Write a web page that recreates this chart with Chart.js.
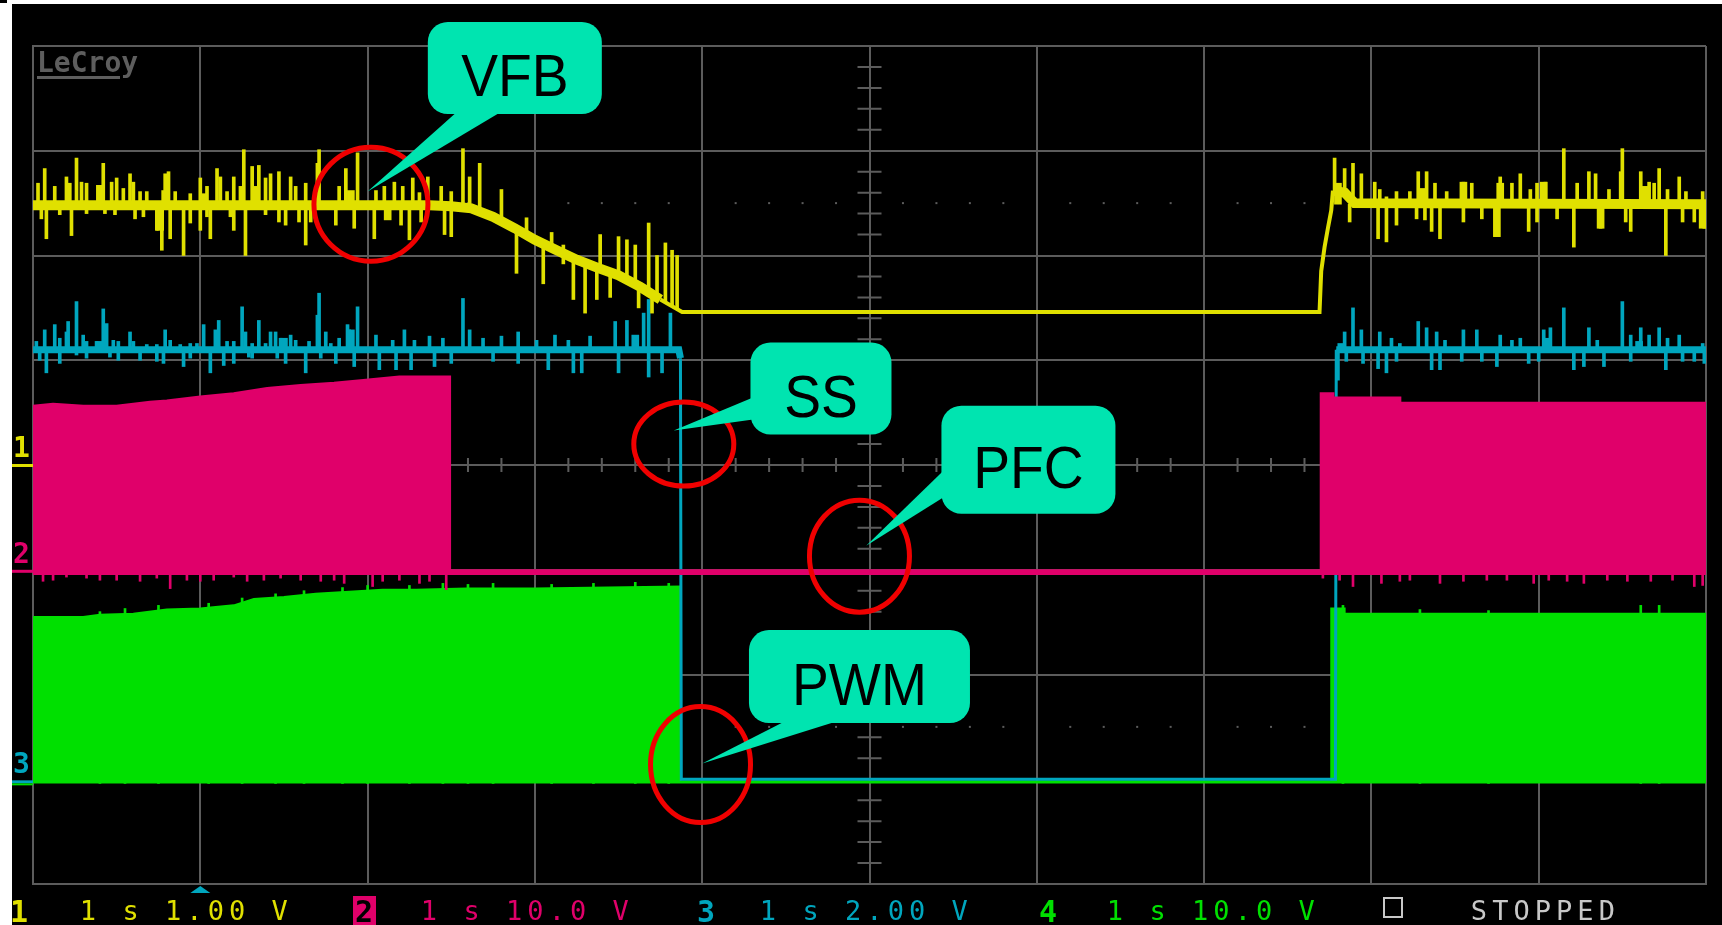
<!DOCTYPE html>
<html>
<head>
<meta charset="utf-8">
<title>LeCroy - VFB / SS / PFC / PWM</title>
<script src="https://cdn.jsdelivr.net/npm/chart.js@4.4.1/dist/chart.umd.min.js"></script>
<style>
  html, body { margin: 0; padding: 0; background: #fff; }
  #scope { display: block; }
</style>
</head>
<body>
<canvas id="scope" width="1722" height="925"></canvas>
<script>
// time axis: 1 s/div, 10 div. vertical values are screen divisions (0 = centre line)

// CH1 yellow - VFB
const vfbTime  = [0, 2.37, 2.50, 2.62, 2.75, 2.88, 3.00, 3.13, 3.25, 3.38, 3.50, 3.63, 3.75, 3.88, 7.69, 7.70, 7.72, 7.74, 7.76, 7.77, 7.84, 7.90, 10];
const vfbLevel = [2.48, 2.48, 2.47, 2.45, 2.37, 2.26, 2.15, 2.05, 1.96, 1.88, 1.81, 1.70, 1.58, 1.46, 1.46, 1.85, 2.08, 2.26, 2.43, 2.62, 2.60, 2.50, 2.49];
// noise spikes [time, low, high]
const vfbSpikes = [
  [0.03,2.48,2.69],[0.07,2.48,2.83],[0.13,2.48,2.66],[0.20,2.48,2.75],[0.22,2.48,2.69],[0.26,2.48,2.93],[0.29,2.48,2.70],
  [0.32,2.48,2.69],[0.39,2.48,2.67],[0.42,2.48,2.88],[0.47,2.48,2.70],[0.50,2.48,2.74],[0.54,2.48,2.64],[0.58,2.48,2.78],
  [0.60,2.48,2.70],[0.64,2.48,2.61],[0.68,2.48,2.61],[0.79,2.48,2.78],[0.81,2.48,2.80],[0.85,2.48,2.61],[0.94,2.48,2.59],
  [1.00,2.48,2.74],[1.04,2.48,2.66],[1.10,2.48,2.83],[1.12,2.48,2.75],[1.16,2.48,2.61],[1.20,2.48,2.75],[1.24,2.48,2.66],
  [1.26,2.48,3.01],[1.31,2.48,2.85],[1.35,2.48,2.86],[1.39,2.48,2.74],[1.42,2.48,2.78],[1.47,2.48,2.80],[1.54,2.48,2.75],
  [1.57,2.48,2.66],[1.63,2.48,2.69],[1.70,2.48,2.88],[1.71,2.48,3.01],[1.83,2.48,2.66],[1.87,2.48,2.83],[1.94,2.48,2.98],
  [2.16,2.48,2.70],[2.21,2.48,2.66],[2.27,2.48,2.74],[2.36,2.48,2.75],[2.50,2.47,2.61],[2.57,2.47,3.02],[2.61,2.45,2.75],
  [2.67,2.42,2.88],[2.80,2.33,2.63],[2.05,2.48,2.62],[2.10,2.48,2.66],[2.31,2.48,2.60],[2.44,2.48,2.66],
  [0.05,2.35,2.48],[0.08,2.16,2.48],[0.16,2.39,2.48],[0.23,2.19,2.48],[0.32,2.40,2.48],[0.43,2.40,2.48],[0.49,2.39,2.48],
  [0.61,2.35,2.48],[0.66,2.37,2.48],[0.74,2.24,2.48],[0.77,2.05,2.48],[0.82,2.16,2.48],[0.90,2.00,2.48],[0.94,2.31,2.48],
  [1.00,2.24,2.48],[1.04,2.37,2.48],[1.06,2.16,2.48],[1.18,2.37,2.48],[1.20,2.24,2.48],[1.27,2.00,2.48],[1.39,2.39,2.48],
  [1.47,2.32,2.48],[1.51,2.29,2.48],[1.59,2.32,2.48],[1.63,2.10,2.48],[1.66,2.32,2.48],[1.81,2.29,2.48],[1.92,2.26,2.48],
  [2.04,2.16,2.48],[2.20,2.29,2.48],[2.25,2.15,2.48],[2.32,2.32,2.48],[2.46,2.20,2.48],[2.50,2.18,2.47],
  [2.89,1.83,2.25],[3.05,1.73,2.11],[3.23,1.58,1.97],[3.30,1.45,1.92],[3.37,1.58,1.88],[3.39,1.87,2.20],[3.45,1.60,1.84],
  [3.50,1.81,2.18],[3.55,1.77,2.15],[3.60,1.73,2.10],[3.62,1.50,1.71],[3.68,1.65,2.31],[3.70,1.45,1.63],[3.73,1.60,2.00],
  [3.78,1.55,2.12],[3.82,1.52,2.05],[3.85,1.49,2.00],[2.95,2.20,2.36],[3.10,2.06,2.22],[3.17,1.92,2.10],
  [7.78,2.6,2.93],[7.84,2.6,2.83],[7.89,2.49,2.88],[7.94,2.49,2.78],[8.02,2.49,2.70],[8.05,2.49,2.63],[8.09,2.49,2.56],
  [8.15,2.49,2.61],[8.23,2.49,2.61],[8.28,2.49,2.80],[8.33,2.49,2.80],[8.38,2.49,2.69],[8.45,2.49,2.61],[8.55,2.49,2.70],
  [8.60,2.49,2.69],[8.77,2.49,2.75],[8.84,2.49,2.69],[8.89,2.49,2.78],[8.95,2.49,2.63],[8.99,2.49,2.69],[9.04,2.49,2.70],
  [9.15,2.49,3.02],[9.23,2.49,2.69],[9.30,2.49,2.80],[9.34,2.49,2.78],[9.42,2.49,2.63],[9.49,2.49,2.80],[9.50,2.49,3.02],
  [9.61,2.49,2.80],[9.66,2.49,2.70],[9.69,2.49,2.69],[9.72,2.49,2.83],[9.77,2.49,2.63],[9.84,2.49,2.75],[9.88,2.49,2.61],
  [9.98,2.49,2.61],
  [7.87,2.32,2.49],[8.04,2.16,2.49],[8.09,2.13,2.49],[8.15,2.29,2.49],[8.27,2.35,2.49],[8.32,2.34,2.49],[8.36,2.23,2.49],
  [8.41,2.16,2.49],[8.55,2.32,2.49],[8.66,2.35,2.49],[8.75,2.18,2.49],[8.94,2.23,2.49],[8.99,2.32,2.49],[9.11,2.35,2.49],
  [9.21,2.08,2.49],[9.37,2.26,2.49],[9.52,2.32,2.49],[9.55,2.23,2.49],[9.76,2.00,2.49],[9.86,2.32,2.49],[9.93,2.32,2.49],
  [9.99,2.26,2.49]
];
// wider noise blocks [time, low, high]
const vfbBlocks = [
  [0.40,2.48,2.67],[0.79,2.48,2.62],[0.76,2.24,2.48],[1.02,2.48,2.59],[1.33,2.48,2.66],[1.90,2.48,2.62],[2.12,2.34,2.48],
  [7.80,2.49,2.69],[8.30,2.49,2.64],[8.55,2.49,2.70],[8.77,2.49,2.69],[8.75,2.18,2.49],[9.03,2.49,2.70],[9.37,2.26,2.49],
  [9.64,2.49,2.66],[9.98,2.26,2.49]
];

// CH3 cyan - SS
const ssTime  = [0, 3.86, 3.87, 3.875, 7.785, 7.79, 10];
const ssLevel = [1.10, 1.10, 1.02, -3.00, -3.00, 1.10, 1.10];
const ssHigh = 1.10;
// spike tips [time, tip]
const ssSpikes = [
  [0.02,1.18],[0.07,1.29],[0.13,1.34],[0.16,1.21],[0.20,1.27],[0.21,1.37],[0.26,1.56],[0.30,1.24],[0.32,1.18],[0.38,1.18],
  [0.42,1.49],[0.44,1.35],[0.48,1.19],[0.51,1.18],[0.58,1.27],[0.60,1.18],[0.68,1.15],[0.74,1.15],[0.79,1.29],[0.82,1.19],
  [0.88,1.15],[0.94,1.16],[0.98,1.16],[1.02,1.34],[1.09,1.29],[1.11,1.38],[1.16,1.18],[1.20,1.18],[1.25,1.51],[1.27,1.27],
  [1.31,1.16],[1.35,1.38],[1.39,1.16],[1.42,1.27],[1.45,1.27],[1.48,1.21],[1.54,1.24],[1.57,1.19],[1.65,1.18],[1.70,1.43],
  [1.71,1.64],[1.75,1.27],[1.78,1.16],[1.83,1.21],[1.88,1.34],[1.89,1.29],[1.94,1.51],
  [2.15,1.19],[2.28,1.19],[2.37,1.23],[2.57,1.59],[2.61,1.29],[2.69,1.21],[2.80,1.23],[3.01,1.19],[3.20,1.19],[3.33,1.23],
  [3.48,1.37],[3.55,1.38],[3.65,1.45],[3.68,1.58],[3.81,1.45],[2.05,1.24],[2.22,1.29],[2.45,1.21],[2.90,1.27],[3.12,1.24],
  [0.04,1.00],[0.08,0.88],[0.16,0.97],[0.26,1.05],[0.32,1.02],[0.46,1.03],[0.51,1.00],[0.64,1.00],[0.74,0.99],[0.78,0.97],
  [0.90,0.94],[0.94,1.02],[1.06,0.88],[1.14,0.95],[1.20,0.97],[1.29,1.03],[1.31,1.02],[1.46,1.02],[1.51,0.97],[1.63,0.88],
  [1.72,1.02],[1.81,0.97],[1.92,0.94],
  [2.07,0.91],[2.17,0.91],[2.26,0.91],[2.40,0.94],[2.50,0.97],[2.75,0.99],[2.90,0.97],[3.08,0.91],[3.23,0.88],[3.28,0.88],
  [3.50,0.88],[3.68,0.84],[3.76,0.88],
  [7.84,1.27],[7.89,1.50],[7.94,1.29],[8.05,1.27],[8.12,1.21],[8.17,1.16],[8.28,1.37],[8.33,1.31],[8.39,1.27],
  [8.44,1.19],[8.55,1.29],[8.63,1.29],[8.77,1.24],[8.84,1.19],[8.89,1.21],[9.03,1.29],[9.07,1.31],[9.15,1.50],
  [9.30,1.31],[9.35,1.19],[9.50,1.56],[9.55,1.24],[9.61,1.31],[9.66,1.24],[9.72,1.31],[9.77,1.21],[9.84,1.24],
  [9.98,1.16],
  [7.80,0.81],[7.85,0.99],[7.95,0.97],[8.04,0.92],[8.09,0.88],[8.15,0.99],[8.36,0.91],[8.41,0.91],[8.54,0.99],
  [8.66,0.99],[8.75,0.94],[8.94,0.97],[9.00,0.99],[9.21,0.91],[9.27,0.94],[9.39,0.94],[9.55,0.99],[9.76,0.91],
  [9.86,0.99],[9.93,0.99],[9.99,0.97]
];
const ssBlocks = [[0.40,1.18],[1.50,1.21],[1.90,1.29],[3.60,1.24],[7.82,1.16],[9.05,1.21],[9.60,1.18]];

// CH2 pink - PFC (switching envelope, filled down to its floor)
const pfcTime  = [0, 0.12, 0.30, 0.50, 0.70, 0.80, 1.00, 1.20, 1.40, 1.60, 1.80, 1.99, 2.19, 2.49, 2.49, 7.70, 7.70, 7.77, 7.77, 8.17, 8.17, 10];
const pfcLevel = [0.56, 0.58, 0.56, 0.56, 0.60, 0.61, 0.65, 0.68, 0.73, 0.76, 0.78, 0.81, 0.84, 0.84, -1.01, -1.01, 0.68, 0.68, 0.64, 0.64, 0.59, 0.59];
const pfcFloor = -1.05;
const pfcDrops = [
  [0.06,-1.11],[0.12,-1.10],[0.20,-1.07],[0.32,-1.08],[0.40,-1.10],[0.50,-1.10],[0.64,-1.11],[0.74,-1.08],[0.82,-1.18],
  [0.92,-1.10],[1.00,-1.11],[1.08,-1.10],[1.20,-1.07],[1.28,-1.11],[1.38,-1.10],[1.48,-1.08],[1.60,-1.10],[1.72,-1.11],
  [1.80,-1.10],[1.86,-1.13],[2.03,-1.16],[2.09,-1.11],[2.19,-1.10],[2.31,-1.13],[2.37,-1.11],[2.47,-1.19],
  [7.71,-1.08],[7.81,-1.10],[7.89,-1.16],[8.06,-1.13],[8.17,-1.11],[8.23,-1.10],[8.41,-1.13],[8.55,-1.11],[8.69,-1.10],
  [8.81,-1.10],[8.97,-1.13],[9.06,-1.10],[9.17,-1.11],[9.27,-1.13],[9.41,-1.10],[9.53,-1.11],[9.67,-1.11],[9.80,-1.10],
  [9.93,-1.16],[9.98,-1.15]
];

// CH4 green - PWM
const pwmTime  = [0, 0.30, 0.40, 0.60, 0.80, 1.00, 1.20, 1.32, 1.50, 1.69, 1.89, 2.09, 2.29, 2.59, 2.79, 3.00, 3.87, 3.87, 7.76, 7.76, 7.84, 7.84, 10];
const pwmLevel = [-1.45, -1.45, -1.43, -1.42, -1.38, -1.37, -1.34, -1.28, -1.26, -1.23, -1.21, -1.19, -1.19, -1.18, -1.18, -1.18, -1.16, -3.02, -3.02, -1.37, -1.37, -1.42, -1.42];
const pwmFloor = -3.04;
const pwmTicks = [
  [0.40,-1.40],[0.55,-1.37],[0.75,-1.34],[1.05,-1.32],[1.25,-1.27],[1.45,-1.23],[1.62,-1.20],[1.85,-1.17],[2.00,-1.15],
  [2.25,-1.15],[2.45,-1.13],[2.60,-1.14],[2.75,-1.13],[3.10,-1.14],[3.35,-1.13],[3.60,-1.12],[3.80,-1.13],
  [7.83,-1.34],[8.29,-1.38],[8.70,-1.39],[9.61,-1.34],[9.72,-1.34]
];

// readout line under the graticule
const chanIds    = ['1', '2', '3', '4'];
const chanScales = ['1 s 1.00 V', '1 s 10.0 V', '1 s 2.00 V', '1 s 10.0 V'];
const chanOffset = [0, -1.01, -3.02];
const trigTime = 1.0;

// callouts: label, box centre (t, div), tip (t, div)
const calloutText = ['VFB', 'SS', 'PFC', 'PWM'];
const calloutAt   = [[2.88, 3.79], [4.71, 0.73], [5.95, 0.05], [4.94, -2.02]];
const calloutTip  = [[2.00, 2.61], [3.83, 0.33], [4.98, -0.77], [4.00, -2.85]];
const ringAt      = [[2.02, 2.49], [3.89, 0.20], [4.94, -0.87], [3.99, -2.86]];

const YELLOW = '#e0e000', CYAN = '#00a6be', PINK = '#e0006a', GREEN = '#00e000';
const GRID = '#5c5c5c', TEAL = '#00e4b0';

const pts = (ts, vs) => ts.map((t, i) => ({ x: t, y: vs[i] }));
const bars = list => list.map(s => ({ x: s[0], y: [s[1], s[2]] }));

// box size / pointer root per callout (px)
const calloutBox  = [[174, 92], [141, 92], [174, 108], [221, 93]];
const calloutRoot = [[[-58, 44], [-14, 44]], [[-68, 9], [-68, 31]], [[-84, 10], [-84, 37]], [[-73, 44], [-20, 44]]];
const ringSize    = [[57, 57], [50, 42], [50, 56], [50, 58]];

const scopeDecor = {
  id: 'scopeDecor',
  beforeDraw(chart) {
    const c = chart.ctx;
    c.save();
    c.fillStyle = '#fff';
    c.fillRect(0, 0, chart.width, chart.height);
    c.fillStyle = '#000';
    c.fillRect(12, 4, chart.width - 12, chart.height - 4);
    c.fillRect(0, 0, 7, 3);
    c.restore();
  },
  beforeDatasetsDraw(chart) {
    const c = chart.ctx, x = chart.scales.x, y = chart.scales.y;
    const cx = x.getPixelForValue(5), cy = y.getPixelForValue(0);
    c.save();
    c.strokeStyle = GRID;
    c.fillStyle = GRID;
    c.lineWidth = 2;
    c.beginPath();
    for (let k = 1; k < 50; k++) {
      if (k % 5 === 0) continue;
      const px = x.getPixelForValue(k / 5);
      c.moveTo(px, cy - 7); c.lineTo(px, cy + 7);
    }
    for (let k = -19; k < 20; k++) {
      if (k % 5 === 0) continue;
      const py = y.getPixelForValue(k / 5);
      c.moveTo(cx - 12, py); c.lineTo(cx + 12, py);
    }
    c.stroke();
    // dotted lines at +/- 2.5 div
    [2.5, -2.5].forEach(v => {
      const py = y.getPixelForValue(v);
      for (let k = 1; k < 50; k++) {
        if (k % 5 === 0) continue;
        c.fillRect(x.getPixelForValue(k / 5) - 1, py - 1, 2, 2);
      }
    });
    c.restore();
  },
  afterDraw(chart) {
    const c = chart.ctx, x = chart.scales.x, y = chart.scales.y, area = chart.chartArea;
    c.save();

    // logo
    c.fillStyle = '#5e5e5e';
    c.font = 'bold 28px "DejaVu Sans Mono", monospace';
    c.textAlign = 'left';
    c.fillText('LeCroy', 37, 72);
    c.fillRect(37, 76, 83, 3);

    // channel offset markers
    const markColors = [YELLOW, PINK, CYAN];
    chanOffset.forEach((v, i) => {
      const py = y.getPixelForValue(v);
      c.fillStyle = markColors[i];
      c.font = 'bold 28px "DejaVu Sans Mono", monospace';
      c.fillText(chanIds[i], 13, py - 8);
      c.fillRect(12, py - 1, area.left - 12, 3);
    });
    c.fillStyle = GREEN;
    c.fillRect(12, y.getPixelForValue(-3.02) + 2, area.left - 12, 2);

    // trigger position marker
    const tx = x.getPixelForValue(trigTime);
    c.fillStyle = CYAN;
    c.beginPath();
    c.moveTo(tx - 10, area.bottom + 9); c.lineTo(tx + 10, area.bottom + 9); c.lineTo(tx, area.bottom + 2);
    c.closePath(); c.fill();

    // red rings
    c.strokeStyle = '#f00000';
    c.lineWidth = 5;
    ringAt.forEach((r, i) => {
      c.beginPath();
      c.ellipse(x.getPixelForValue(r[0]), y.getPixelForValue(r[1]), ringSize[i][0], ringSize[i][1], 0, 0, Math.PI * 2);
      c.stroke();
    });

    // callouts
    calloutText.forEach((txt, i) => {
      const bx = x.getPixelForValue(calloutAt[i][0]), by = y.getPixelForValue(calloutAt[i][1]);
      const [w, h] = calloutBox[i];
      c.fillStyle = TEAL;
      c.beginPath();
      c.roundRect(bx - w / 2, by - h / 2, w, h, 20);
      c.fill();
      const root = calloutRoot[i];
      c.beginPath();
      c.moveTo(bx + root[0][0], by + root[0][1]);
      c.lineTo(x.getPixelForValue(calloutTip[i][0]), y.getPixelForValue(calloutTip[i][1]));
      c.lineTo(bx + root[1][0], by + root[1][1]);
      c.closePath();
      c.fill();
      c.fillStyle = '#000';
      c.font = '60px "Liberation Sans", Arial, sans-serif';
      c.textAlign = 'center';
      c.save();
      c.translate(bx, by + 28);
      c.scale(0.92, 1);
      c.fillText(txt, 0, 0);
      c.restore();
    });

    // readout line
    const chipX = [19, 364, 706, 1048], readX = [88, 429, 768, 1115];
    const chColors = [YELLOW, PINK, CYAN, GREEN];
    const base = 920, adv = 21.3;
    c.textAlign = 'center';
    chanIds.forEach((id, i) => {
      if (i === 1) {
        c.fillStyle = PINK;
        c.fillRect(chipX[i] - 11, 896, 23, 29);
        c.fillStyle = '#000';
      } else {
        c.fillStyle = chColors[i];
      }
      c.font = 'bold 30px "DejaVu Sans Mono", monospace';
      c.fillText(id, chipX[i], base + 2);
      c.fillStyle = chColors[i];
      c.font = '27px "DejaVu Sans Mono", monospace';
      [...chanScales[i]].forEach((ch, k) => c.fillText(ch, readX[i] + k * adv, base));
    });
    c.strokeStyle = '#c8c8c8';
    c.lineWidth = 2;
    c.strokeRect(1384, 898, 18, 19);
    c.fillStyle = '#c8c8c8';
    [...'STOPPED'].forEach((ch, k) => c.fillText(ch, 1479 + k * adv, base));

    c.restore();
  }
};

// thick noisy band only on the slow parts of the trace, thin on the flat level and fast edges
const bandWidth = (ctx, wide, thin, minLevel) => {
  const a = ctx.p0.parsed.y, b = ctx.p1.parsed.y;
  return (a > minLevel && b > minLevel && Math.abs(b - a) < 0.15) ? wide : thin;
};

new Chart(document.getElementById('scope'), {
  type: 'line',
  data: {
    datasets: [
      {
        label: 'VFB',
        data: pts(vfbTime, vfbLevel),
        borderColor: YELLOW,
        borderWidth: 10,
        segment: { borderWidth: ctx => bandWidth(ctx, 10, 4, 1.5) },
        order: 0
      },
      {
        type: 'bar',
        label: 'VFB noise',
        data: bars(vfbSpikes),
        backgroundColor: YELLOW,
        barThickness: 3,
        grouped: false,
        order: 0
      },
      {
        type: 'bar',
        label: 'VFB noise blocks',
        data: bars(vfbBlocks),
        backgroundColor: YELLOW,
        barThickness: 7,
        grouped: false,
        order: 0
      },
      {
        label: 'PFC',
        data: pts(pfcTime, pfcLevel),
        borderColor: PINK,
        borderWidth: 3,
        backgroundColor: PINK,
        fill: { value: pfcFloor },
        order: 1
      },
      {
        type: 'bar',
        label: 'PFC edge',
        data: pfcDrops.map(s => ({ x: s[0], y: [s[1], pfcFloor] })),
        backgroundColor: PINK,
        barThickness: 2,
        grouped: false,
        order: 1
      },
      {
        label: 'SS',
        data: pts(ssTime, ssLevel),
        borderColor: CYAN,
        borderWidth: 7,
        segment: { borderWidth: ctx => bandWidth(ctx, 7, 3, 0) },
        order: 2
      },
      {
        type: 'bar',
        label: 'SS noise',
        data: ssSpikes.map(s => ({ x: s[0], y: [Math.min(s[1], ssHigh), Math.max(s[1], ssHigh)] })),
        backgroundColor: CYAN,
        barThickness: 3,
        grouped: false,
        order: 2
      },
      {
        type: 'bar',
        label: 'SS noise blocks',
        data: ssBlocks.map(s => ({ x: s[0], y: [ssHigh, s[1]] })),
        backgroundColor: CYAN,
        barThickness: 7,
        grouped: false,
        order: 2
      },
      {
        label: 'PWM',
        data: pts(pwmTime, pwmLevel),
        borderColor: GREEN,
        borderWidth: 2,
        backgroundColor: GREEN,
        fill: { value: pwmFloor },
        order: 3
      },
      {
        type: 'bar',
        label: 'PWM edge',
        data: pwmTicks.map(s => ({ x: s[0], y: [pwmFloor, s[1]] })),
        backgroundColor: GREEN,
        barThickness: 2,
        grouped: false,
        order: 3
      }
    ]
  },
  options: {
    responsive: false,
    animation: false,
    devicePixelRatio: 1,
    layout: { padding: { left: 33, right: 16, top: 46, bottom: 41 } },
    elements: { point: { radius: 0 }, line: { tension: 0 } },
    plugins: { legend: { display: false }, tooltip: { enabled: false } },
    scales: {
      x: {
        type: 'linear', min: 0, max: 10, offset: false,
        ticks: { display: false, stepSize: 1 },
        grid: { color: GRID, lineWidth: 2, drawTicks: false, offset: false },
        border: { color: GRID, width: 2 }
      },
      y: {
        type: 'linear', min: -4, max: 4,
        ticks: { display: false, stepSize: 1 },
        grid: { color: GRID, lineWidth: 2, drawTicks: false },
        border: { color: GRID, width: 2 }
      }
    }
  },
  plugins: [scopeDecor]
});
</script>
</body>
</html>
